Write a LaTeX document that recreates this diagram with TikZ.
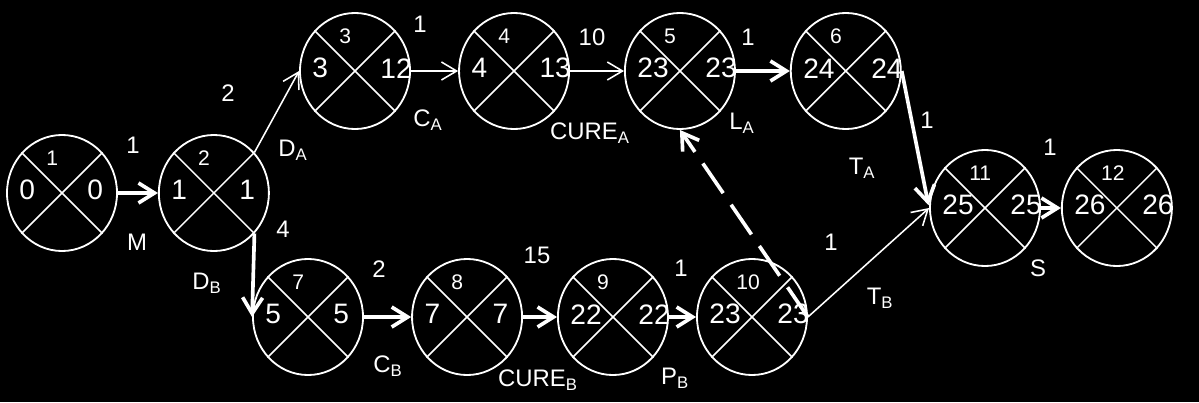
\documentclass[tikz,border=0pt]{standalone}
\usepackage{fontspec}
\setmainfont{Liberation Sans}
\usetikzlibrary{arrows.meta}
\usetikzlibrary{shapes.geometric, positioning}

\tikzset{
    event/.style={
        ellipse,
        draw=white,
        line width=1.3pt,
        minimum width=2.75cm,
        minimum height=2.9cm,
        inner sep=0pt
    },
    xline/.style={draw=white, line width=1.1pt},
    idnum/.style={text=white, inner sep=0pt, anchor=west, font=\fontsize{15}{18}\selectfont},
    tnum/.style={text=white, inner sep=0pt, anchor=west, font=\fontsize{20}{24}\selectfont},
    elab/.style={text=white, inner sep=0pt, font=\fontsize{17}{20}\selectfont},
    thinarrow/.style={
        -{Straight Barb[length=0.38cm,width=0.45cm]},
        draw=white,
        line width=1.1pt
    },
    thickarrow/.style={
        -{Straight Barb[length=0.4cm,width=0.5cm]},
        draw=white,
        line width=2.6pt
    }
}

% event circle: name, placement, number, earliest, latest
\newcommand{\evnode}[5]{%
    \node[event, #2] (#1) {};
    \draw[xline] (#1.45) -- (#1.225) (#1.135) -- (#1.315);
    \node[idnum] (#1-id) at ([xshift=-0.4cm, yshift=0.87cm]#1.center) {#3};
    \node[tnum] (#1-es) at ([xshift=-1.07cm, yshift=0.07cm]#1.center) {#4};
    \node[tnum] (#1-lf) at ([xshift=0.63cm, yshift=0.07cm]#1.center) {#5};
}

\begin{document}
\begin{tikzpicture}[x=0.025cm, y=-0.025cm]
\fill[black] (0,0) rectangle (1199,402);
\useasboundingbox (0,0) rectangle (1199,402);

% events
\evnode{n1}{at={(62,193)}}{1}{0}{0}
\evnode{n2}{right=1cm of n1}{2}{1}{1}
\evnode{n3}{at={(355,71)}}{3}{3}{12}
\evnode{n4}{right=1.18cm of n3}{4}{4}{13}
\evnode{n5}{right=1.35cm of n4}{5}{23}{23}
\evnode{n6}{right=1.35cm of n5}{6}{24}{24}
\evnode{n7}{at={(308,317)}}{7}{5}{5}
\evnode{n8}{right=1.18cm of n7}{8}{7}{7}
\evnode{n9}{right=0.85cm of n8}{9}{22}{22}
\evnode{n10}{right=0.68cm of n9}{10}{23}{23}
\evnode{n11}{at={(985,208)}}{11}{25}{25}
\evnode{n12}{right=0.5cm of n11}{12}{26}{26}

% activities
\draw[thickarrow] (n1) -- (n2);
\draw[thinarrow] (n2.45) -- (n3.west);
\draw[thinarrow] (n3) -- (n4);
\draw[thinarrow] (n4) -- (n5);
\draw[thickarrow] (n5) -- (n6);
\draw[thickarrow, shorten >=2pt] (n6.east) -- (n11.west);
\draw[thickarrow] (n2.315) -- (n7.west);
\draw[thickarrow] (n7) -- (n8);
\draw[thickarrow] (n8) -- (n9);
\draw[thickarrow] (n9) -- (n10);
\draw[thinarrow] (n10.east) -- (n11.west);
\draw[thickarrow] (n11) -- (n12);
\draw[thickarrow, dash pattern=on 0.9cm off 0.35cm] (n10.east) -- (n5.south);

% durations and names
\node[elab] (wM) at (133,145) {1};
\node[elab] (lM) at (137,242) {M};
\node[elab] (wDA) at (228,93) {2};
\node[elab] (lDA) at (293,150) {D\textsubscript{A}};
\node[elab] (wDB) at (283,229) {4};
\node[elab] (lDB) at (207,283) {D\textsubscript{B}};
\node[elab] (wCA) at (420,24) {1};
\node[elab] (lCA) at (428,120) {C\textsubscript{A}};
\node[elab] (wCUA) at (592,37) {10};
\node[elab] (lCUA) at (590,133) {CURE\textsubscript{A}};
\node[elab] (wLA) at (748,37) {1};
\node[elab] (lLA) at (742,123) {L\textsubscript{A}};
\node[elab] (wTA) at (927,120) {1};
\node[elab] (lTA) at (862,168) {T\textsubscript{A}};
\node[elab] (wS) at (1050,147) {1};
\node[elab] (lS) at (1038,268) {S};
\node[elab] (wCB) at (379,269) {2};
\node[elab] (lCB) at (388,366) {C\textsubscript{B}};
\node[elab] (wCUB) at (537,255) {15};
\node[elab] (lCUB) at (538,380) {CURE\textsubscript{B}};
\node[elab] (wPB) at (681,268) {1};
\node[elab] (lPB) at (675,378) {P\textsubscript{B}};
\node[elab] (wTB) at (831,242) {1};
\node[elab] (lTB) at (880,298) {T\textsubscript{B}};
\end{tikzpicture}
\end{document}
